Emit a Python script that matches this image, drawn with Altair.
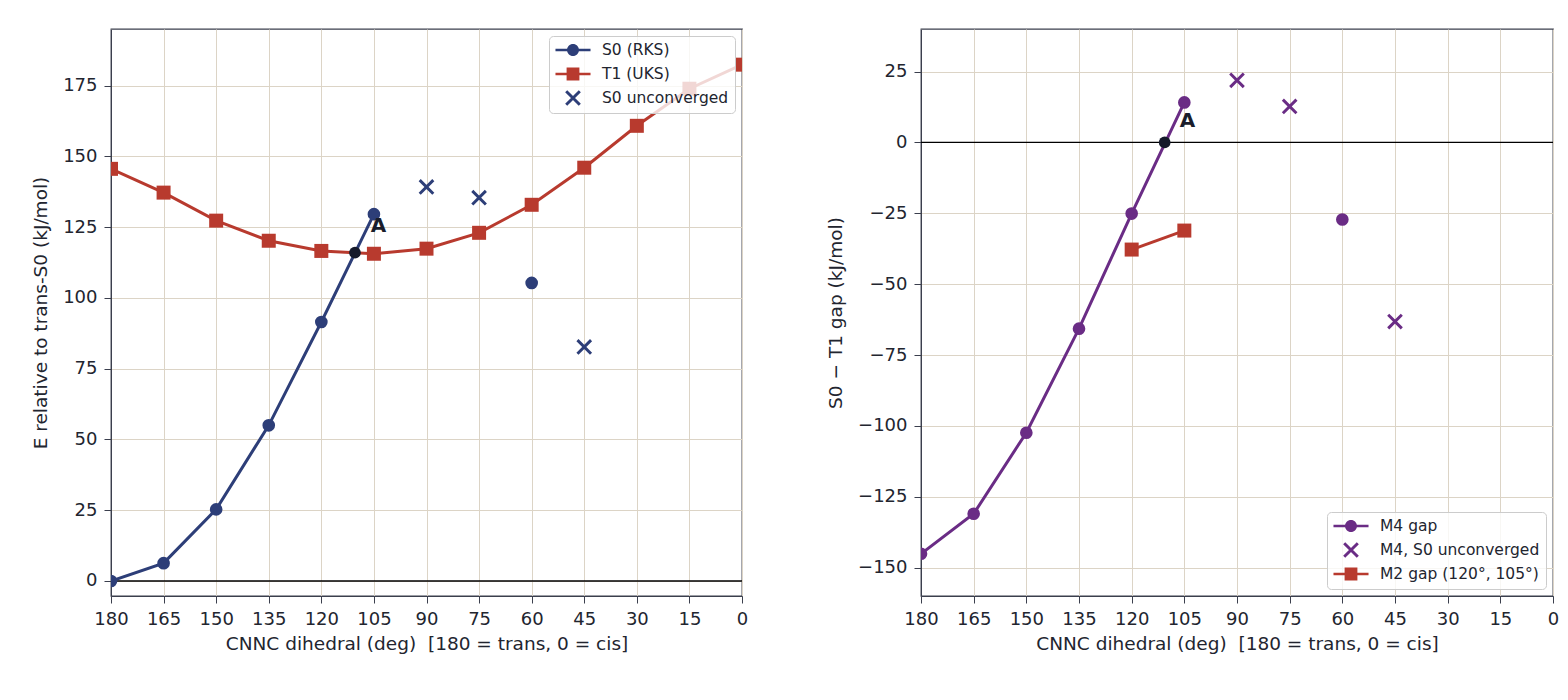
import altair as alt
import pandas as pd

# ---- left panel: energies relative to trans-S0 (kJ/mol) ----
s0_deg = [180, 165, 150, 135, 120, 105]
s0_e = [0.0, 6.3, 25.3, 55.0, 91.5, 129.6]
s0_iso_deg = [60]
s0_iso_e = [105.3]
s0_unc_deg = [90, 75, 45]
s0_unc_e = [139.2, 135.4, 82.7]
t1_deg = [180, 165, 150, 135, 120, 105, 90, 75, 60, 45, 30, 15, 0]
t1_e = [145.6, 137.2, 127.3, 120.2, 116.6, 115.6, 117.4, 123.0, 132.9, 146.0, 160.8, 173.9, 182.4]
cross_left = (110.4, 116.0)
label_left = (103.7, 125.3)

# ---- right panel: S0 - T1 gap (kJ/mol) ----
m4_deg = [180, 165, 150, 135, 120, 105]
m4_gap = [-145.1, -131.0, -102.4, -65.7, -25.1, 14.1]
m4_iso_deg = [60]
m4_iso_gap = [-27.2]
m4_unc_deg = [90, 75, 45]
m4_unc_gap = [21.9, 12.7, -63.2]
m2_deg = [120, 105]
m2_gap = [-37.8, -31.1]
cross_right = (110.6, 0.0)
label_right = (104.1, 7.6)

left_names = ["S0 (RKS)", "T1 (UKS)", "S0 unconverged"]
right_names = ["M4 gap", "M4, S0 unconverged", "M2 gap (120°, 105°)"]

BLUE = "#2d3e78"
RED = "#b83a2e"
PURPLE = "#6a2c85"
DARK = "#151a2b"
FONT = "DejaVu Sans"
XTITLE = "CNNC dihedral (deg)\u00a0 [180 = trans, 0 = cis]"
XTICKS = list(range(180, -1, -15))


def x_path(a, t):
    p1 = f"M{-a+t},{-a-t}L{a+t},{a-t}L{a-t},{a+t}L{-a-t},{-a+t}Z"
    p2 = f"M{-a-t},{a-t}L{a-t},{-a-t}L{a+t},{-a+t}L{-a+t},{a+t}Z"
    return p1 + p2


# legend symbols: unit = 8px (symbolSize 256), bar spans 35px
BAR = "M-2.19,-0.16H2.19V0.16H-2.19Z"
LEG_CIRCLE = BAR + "M0.75,0A0.75,0.75 0 1,1 -0.75,0A0.75,0.75 0 1,1 0.75,0Z"
LEG_SQUARE = BAR + "M-0.8,-0.8H0.8V0.8H-0.8Z"
LEG_X = x_path(0.85, 0.13)
DATA_X = x_path(0.85, 0.13)


def frame(deg, val):
    return pd.DataFrame({"deg": deg, "val": val})


def panel(x_scale, y_scale, y_axis):
    def line(df, color):
        return alt.Chart(df).mark_line(color=color, strokeWidth=3, clip=True).encode(
            x=alt.X("deg:Q", scale=x_scale, axis=alt.Axis(values=XTICKS, title=XTITLE, format="d")),
            y=alt.Y("val:Q", scale=y_scale, axis=y_axis),
        )

    def points(df, color, shape, size):
        return alt.Chart(df).mark_point(
            filled=True, color=color, shape=shape, size=size, opacity=1, strokeWidth=0, clip=True
        ).encode(x="deg:Q", y="val:Q")

    return line, points


def legend_layer(names, colors, shapes, orient):
    return (
        alt.Chart(pd.DataFrame({"series": names}))
        .transform_filter("false")
        .mark_point(filled=True, opacity=1)
        .encode(
            color=alt.Color("series:N", scale=alt.Scale(domain=names, range=colors), legend=alt.Legend(
                orient=orient, offset=7, title=None, symbolSize=256, symbolStrokeWidth=0,
                symbolOffset=10, labelOffset=21,
                labelFont=FONT, labelFontSize=15.5, labelColor="#22252f",
                fillColor="rgba(255,255,255,0.8)", strokeColor="#cccccc", cornerRadius=4,
                padding=6, rowPadding=7,
            )),
            shape=alt.Shape("series:N", scale=alt.Scale(domain=names, range=shapes)),
        )
    )


def zero_rule():
    return alt.Chart(pd.DataFrame({"val": [0]})).mark_rule(color="black", strokeWidth=1.3).encode(y="val:Q")


def a_label(pos):
    return alt.Chart(pd.DataFrame({"deg": [pos[0]], "val": [pos[1]], "t": ["A"]})).mark_text(
        font=FONT, fontSize=20, fontWeight="bold", color="#1a1d2b", align="center", baseline="middle"
    ).encode(x="deg:Q", y="val:Q", text="t:N")


x_scale = alt.Scale(domain=[180, 0], nice=False, zero=False)

# left
yl_scale = alt.Scale(domain=[-5.3, 195], nice=False, zero=False)
yl_axis = alt.Axis(values=list(range(0, 176, 25)), title="E relative to trans-S0 (kJ/mol)")
line_l, pts_l = panel(x_scale, yl_scale, yl_axis)
left = alt.layer(
    line_l(frame(t1_deg, t1_e), RED),
    zero_rule(),
    pts_l(frame(t1_deg, t1_e), RED, "square", 196),
    line_l(frame(s0_deg, s0_e), BLUE),
    pts_l(frame(s0_deg, s0_e), BLUE, "circle", 160),
    pts_l(frame(s0_iso_deg, s0_iso_e), BLUE, "circle", 160),
    pts_l(frame(s0_unc_deg, s0_unc_e), BLUE, DATA_X, 256),
    pts_l(frame([cross_left[0]], [cross_left[1]]), DARK, "circle", 137),
    a_label(label_left),
    legend_layer(left_names, [BLUE, RED, BLUE], [LEG_CIRCLE, LEG_SQUARE, LEG_X], "top-right"),
).properties(width=631, height=567)

# right
yr_scale = alt.Scale(domain=[-160, 40], nice=False, zero=False)
yr_axis = alt.Axis(values=list(range(-150, 26, 25)), title="S0 \u2212 T1 gap (kJ/mol)")
line_r, pts_r = panel(x_scale, yr_scale, yr_axis)
right = alt.layer(
    line_r(frame(m4_deg, m4_gap), PURPLE),
    zero_rule(),
    pts_r(frame(m4_deg, m4_gap), PURPLE, "circle", 160),
    pts_r(frame(m4_iso_deg, m4_iso_gap), PURPLE, "circle", 160),
    pts_r(frame(m4_unc_deg, m4_unc_gap), PURPLE, DATA_X, 256),
    line_r(frame(m2_deg, m2_gap), RED),
    pts_r(frame(m2_deg, m2_gap), RED, "square", 196),
    pts_r(frame([cross_right[0]], [cross_right[1]]), DARK, "circle", 137),
    a_label(label_right),
    legend_layer(right_names, [PURPLE, PURPLE, RED], [LEG_CIRCLE, LEG_X, LEG_SQUARE], "bottom-right"),
).properties(width=632, height=567)

chart = (
    alt.hconcat(left, right, spacing=76)
    .resolve_scale(color="independent", shape="independent", y="independent")
    .resolve_legend(color="independent", shape="independent")
    .properties(padding={"left": 22, "top": 20, "right": 0, "bottom": 5})
    .configure_view(stroke="#3b3f4d", strokeWidth=1.3)
    .configure_axis(
        labelFont=FONT, titleFont=FONT, labelFontSize=18, titleFontSize=18.5,
        titleFontWeight="normal", labelColor="#22252f", titleColor="#22252f",
        tickColor="#3b3f4d", domainColor="#3b3f4d", tickSize=7, labelPadding=7,
        gridColor="#dcd4c6", gridWidth=1, titlePadding=12, labelFlush=False,
    )
    .configure_axisX(titlePadding=6)
)

chart.save("out.html", embed_options={"renderer": "svg", "actions": False})
